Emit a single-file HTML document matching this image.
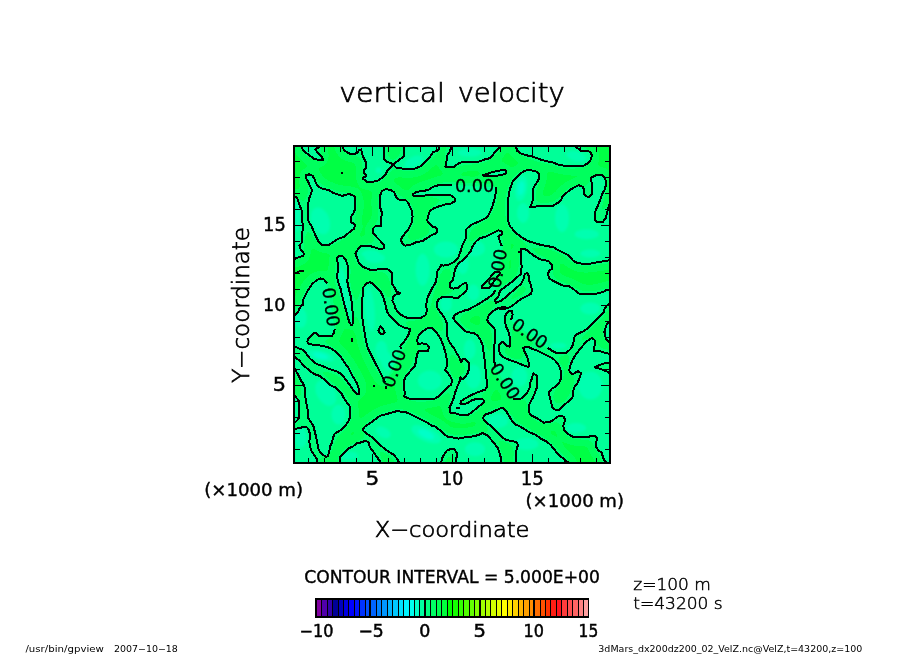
<!DOCTYPE html>
<html lang="en"><head><meta charset="utf-8"><title>vertical velocity</title>
<style>html,body{margin:0;padding:0;background:#fff;overflow:hidden}svg{display:block}text{font-family:"DejaVu Sans","Liberation Sans",sans-serif;fill:#000}</style></head><body>
<svg width="904" height="654" viewBox="0 0 904 654">
<rect width="904" height="654" fill="#fff"/>
<defs><clipPath id="pc"><rect x="294" y="146" width="316" height="317"/></clipPath></defs>
<g clip-path="url(#pc)" shape-rendering="crispEdges">
<rect x="294" y="146" width="316" height="317" fill="#00ff66"/>
<defs><path id="ng" d="M301.7 110 301.7 147.3 303.3 150.6 308.6 154.6 313.9 158.6 317.9 159.7 323 159.7 321.3 156 317.3 152 315.3 149.3 318.6 147.3 318.6 110ZM342.5 110 342.5 147.3 344.5 150.6 348.5 153.3 352.5 154.2 356.5 153.3 359.2 150.2 361.2 149.3 362.5 155.3 365.2 160.6 366.5 164.6 365.8 168.6 363.8 170.6 364.5 173.9 366.5 175.9 362.5 178.2 364.5 179.9 366.9 181.9 372.5 181.9 377.8 180.6 383.1 177.3 385.8 173.9 387.8 169.9 391.8 166.6 392.7 165.3 391.8 163.3 387.1 162 384.2 159.3 384.2 147.3 384.2 110ZM403.7 110 403.7 147.3 403.7 154.6 404.4 156 399.1 160 394.4 163.3 393.5 164.9 396.4 167.9 403.1 168.6 408 169.3 414.6 168.6 420 166.6 425.3 162 429.3 158 431.3 154.6 433.3 152 437.2 151 439.2 149.3 439.2 147.3 439.2 110ZM451.2 110 451.2 147.3 449.9 151.3 447.2 155.3 446.6 160.6 445.9 164.6 445.2 166.6 449.2 167 454.5 166.6 458.5 163.3 462.5 162 470.5 162 478.5 161.7 485.1 159.3 490.5 158 493.1 154.6 495.8 151.3 499.1 148 500.4 147.3 500.4 110ZM515.7 110 515.7 147.3 517.3 150 520.6 153.3 526.6 155.3 533.3 156.9 539.9 159.3 546.6 161.3 553.2 162.6 558.5 164.6 565.2 165.9 574.5 165.9 583.8 165.7 587.8 163.3 591.1 159.3 591.8 155.3 590.5 152 586.5 150.6 581.1 150.6 578.5 148.7 575.8 147.3 575.8 110ZM482.5 175.3 487.8 173.7 493.1 171.9 498.4 170.6 505.1 170.2 506.4 171.9 505.1 173.9 499.8 175.3 493.1 176.3 486.5 176.3ZM646 204 609.4 204.5 608.4 207.2 607.1 212.5 605.8 217.8 603.1 221.8 599.8 222.5 596.4 221.8 594.5 218.5 594.5 214.5 595.8 209.8 598.4 204.5 600.4 199.2 602.4 193.9 605.1 188.6 606.2 183.2 605.1 178.6 602.4 175.3 598.4 174.6 594.5 175.9 591.1 177.9 591.5 181.9 591.8 187.2 591.8 193.9 589.8 196.5 586.5 196.5 584.1 193.9 584.1 189.2 582.5 186.6 578.5 185.2 573.2 187.9 569.2 190.6 565.2 193.9 561.9 197.2 561.2 200.5 557.2 203.2 553.2 205.6 545.2 205.6 538.6 205.9 533.3 207.2 529.9 207.5 531.3 204.5 532.6 200.5 532.6 195.2 533.3 188.6 535.3 184.6 537.2 181.9 539.2 177.9 538.8 173.9 535.9 171.3 530.6 170.2 524.6 170.6 520 173.9 516 177.9 512.6 181.9 510.6 187.2 509 192.6 508.2 199.2 507.7 208.5 508 216.5 508.6 223.1 510.6 227.1 512 228.3 514.6 231.7 518.6 235 523.3 238.3 527.9 241 534.6 243 541.2 245 547.9 246.3 553.2 247 557.2 249.6 562.5 252.3 567.8 254.9 570.5 257.6 573.2 260.7 577.2 262.9 582.5 263.8 590.5 263.6 597.1 262.2 603.8 261.2 609.4 260.3 646 260ZM306 175.3 309.3 174.3 312.6 175.9 314.6 179.2 315.9 183.2 318.6 186.6 323.3 189.2 328.6 189.9 332.6 192.6 337.9 194.5 341.9 195.9 345.9 194.9 348.5 193.9 352.5 195.2 355.2 197.2 355.2 208.5 353.9 212.5 351.2 216.5 350.5 221.8 355.2 224.5 354.5 227.1 353.9 229 349.2 232.3 344.5 236.7 337.9 239 332.6 242.3 329.2 244.7 321.9 244.7 318.6 241.6 315.9 236.3 313.3 230.3 311.3 225.8 308.6 221.8 308 216.5 308 204.5 309.3 197.9 311.3 193.2 312 189.9 310 185.9 308 181.2 305.7 177.9ZM258 196.5 295.1 196.5 297.3 198.5 299.3 204.5 302 211.2 302 221.8 303.3 225.1 302.6 229 302.2 238.3 302 242.3 299.3 245.6 300.6 249.6 304 253.6 303.3 255.6 298 257.6 295.1 258.9 258 259ZM381.8 191.2 385.8 189.2 391.1 189.9 394.4 192.6 396.4 197.9 400.4 200.5 404.4 199.9 405.3 199.9 408 202.5 410 207.2 412 211.2 412.6 216.5 412 221.8 410 225.8 408.6 229 405.3 233 402 237 401.1 239.6 402 243.6 405.3 245.6 410 245 416 242.3 422.6 241 426.6 238.3 431.9 235 436.6 233 437.2 229.7 435.3 227 433.3 227.1 429.3 223.8 427.3 220.5 427.9 216.5 429.9 211.2 433.3 208.5 438.6 206.5 445.2 204.5 451.2 203.5 454.8 201.2 454.5 197.9 450.6 195.2 443.9 194.9 433.3 194.9 425.3 195.5 414.6 196.3 412.6 194.5 415.3 192.6 420 191.2 425.3 190.6 429.9 189.2 433.3 186.6 438.6 185.2 445.2 184.6 452.5 184.8 496 187.2 495.8 192.6 494.5 199.2 492.5 205.9 490.5 211.2 487.8 216.5 483.8 219.2 478.5 221.8 473.2 223.8 469.2 226.5 466.5 229 465.9 233 465.9 238.3 463.9 242.3 461.9 246.3 460.5 251.6 458.5 256.9 455.9 260.3 452.5 262.9 447.9 264.9 443.2 265.6 441.2 264.9 439.9 267.6 437.2 271.6 436.6 276.9 435.9 282.2 433.3 286.2 430.6 291.5 427.9 296.8 426.6 302.2 425.9 307.5 426.6 308 426.6 312 425.3 315.3 421.3 317.6 416 318 408 318 404 316.6 400 314 397.8 312 395.1 308 394.4 304.8 392.4 300.8 393.1 296.8 396.4 294.2 400.4 293.5 396.4 291.5 394.4 287.5 391.8 283.5 392.2 278.2 391.8 272.9 388.4 269.6 383.1 268.6 376.5 269.6 369.8 269.6 363.2 266.9 359.2 263.6 357.2 258.3 355.5 253.6 357.2 250.3 360.5 246.3 364.5 245.6 369.8 246 375.1 247.6 379.1 248.9 384.5 248.3 383.8 245 380.5 241 376.5 237 373.1 233 372.5 229 375.1 226.3 381.1 226.1 381.1 221.8 381.8 212.5 380.5 208.5 380.2 195.2ZM258 314.7 295.1 314.7 298 312 300 307.5 302.6 304.8 303.3 299.5 307.3 291.5 312 284.2 316.6 280.2 320.6 278.5 323.9 279.3 327.2 283.5 334.6 329.3 333.9 333.3 331.9 335.9 325.9 336.2 319.3 335.9 317.3 333.9 314.6 332.6 311.3 335.3 308 339.3 307.3 341.9 309.3 344.2 316.6 345 323.3 345.9 329.9 347.9 335.2 351.2 340.6 356.6 344.5 362.5 348.5 367.9 352.5 375.8 356.5 382.5 358.5 387.8 359.2 393.1 359.2 393.6 357.2 393.9 354.5 391.6 351.2 387 349.9 385.2 345.9 379.8 341.9 374.5 336.6 371.2 329.9 369.2 323.3 366.5 316.6 363.9 310 358.6 306 353.2 303.3 349.9 299.3 348.6 295.1 346.6 258 346.6ZM336.6 258.3 339.9 255.6 342.5 255.9 345.2 258.9 347.2 263.6 348.3 268.9 347.9 276.9 347.2 280.9 348.5 287.5 350.5 295.5 351.9 303.5 352.8 314.7 353.2 321.3 352.3 325 351.2 325 349.2 322 347.9 317.3 346.5 312 344.5 304.8 342.5 296.8 340.6 288.9 337.9 280.9 336.6 275.6 337.9 271.6 337.9 263.6ZM369.8 282.2 372.5 283.5 376.5 287.5 380.5 291.5 383.1 296.8 385.1 303.5 387.1 312 387.8 313.3 392.4 318.6 397.8 324 403.1 327.3 408.4 328.6 410 329.3 409.1 333.3 407.1 337.3 404.4 341.3 401.1 344.6 400.4 346.6 401.7 349.2 385.1 382.5 383.8 379.8 381.8 375.8 378.5 369.2 375.1 362.5 371.1 354.6 367.8 347.9 365.8 339.9 364.5 331.9 363.2 324 362.1 316 362.5 312 361.8 304.8 362.5 296.8 363.2 287.5 366.5 283.5ZM380.5 326 383.1 329.3 384.7 332.6 383.1 334.3 379.8 333.3 378.5 330.6 379.4 328ZM258 357.2 295.1 357.2 299.3 360.5 303.3 365.2 308.6 369.9 313.9 373.9 319.3 375.8 324.6 379.8 329.9 385.2 334.6 387 338.6 390.3 341.9 394.3 343.9 398.3 347.2 403 350.1 406.9 350.5 412.3 349.9 417.6 347.9 422.2 344.5 426.9 340.6 430.2 337.2 432.2 334.6 433.6 333.2 437.5 331.9 442.9 329.9 446.9 329.2 452.2 327.9 456.2 325.9 456.8 321.3 453.5 318.6 449.5 317.3 442.9 315.9 436.2 314.6 430.9 313.3 425.6 310.6 421.6 308 417.6 308 410.9 306.6 404.3 305.3 396.3 305.3 389.7 304 385 300.6 379.8 298 374.5 295.1 369.2 258 369.2ZM258 396.3 295.1 396.3 298.6 400.3 299.3 406.9 299.3 417.6 296.7 420.9 295.1 422.2 258 422.2ZM258 428.9 295.1 428.9 299.3 428.2 303.3 426.9 307.3 427.6 309.3 430.9 310 436.2 309.3 441.5 310 446.9 312 452.2 314.6 455.5 316.6 458.8 317.3 462.8 317.3 499 258 499ZM339.9 499 339.9 462.8 339.9 456.8 344.5 452.2 348.5 448.2 352.5 446.9 356.5 443.5 361.8 442.2 365.2 440.9 368.5 442.2 369.8 446.9 372.5 450.8 376.5 456.2 379.1 460.2 381.1 462.8 381.1 499ZM399.1 499 399.1 462.8 397.1 458.8 393.8 454.8 388.4 451.5 383.1 447.5 377.8 442.9 372.5 437.5 365.8 432.9 362.5 430.2 364.5 426.9 368.5 424.2 372.5 421.6 376.5 418.3 380.5 415.6 385.8 414.3 392.4 412.3 397.8 410.9 400 411.6 405.3 412 410.6 414.3 416 416.9 421.3 419.6 426.6 422.2 431.9 425.6 435.9 426.9 439.9 430.2 443.9 434.2 447.9 436.9 453.2 437.5 458.5 438.6 463.9 437.5 469.2 436.9 474.5 436.2 478.5 434.9 482.5 432.9 486.5 434.9 490.5 438.9 494.5 443.5 497.8 448.2 499.8 453.5 501.1 458.8 501.4 462.8 501.4 499ZM441.2 499 441.2 462.8 441.9 458.8 443.9 454.8 446.6 450.8 450.6 449.1 454.5 449.5 456.5 452.2 456.5 457.5 455.9 462.8 455.9 499ZM428.6 327.7 431.9 328 435.3 331.3 438.6 335.3 441.2 339.9 443.2 345.2 445.2 351.9 446.6 358.6 446.8 366.5 445.2 369.9 447.9 373.2 450.6 377.2 452.1 380.5 451.2 384.5 450.6 385 446.6 388.3 442.6 392.3 438.6 396.3 434.6 398.7 426.6 399 416 399 409.3 398.7 404 396.3 405.1 393.6 404 388.3 404 386.5 404 381.2 405.3 377.2 408.6 373.2 412 369.2 415.3 365.2 416 359.9 417.3 353.9 418.6 350.8 423.9 351.2 427.9 350.8 429 347.2 427.3 344.6 422.6 343.3 418 343.9 417.3 340.6 418 336.6 421.3 332.6 424.6 330ZM498.4 230.3 493.1 233 486.5 236.3 479.8 238.3 475.8 241.6 472.5 246.3 470.5 251.6 466.5 256.3 462.5 260.3 458.5 263.6 455.2 268.9 453.9 275.6 452.5 280.9 449.9 283.5 449.9 287.5 453.2 288.6 458.5 287.5 462.5 284.2 465.9 282.9 467.2 284.9 466.5 290.2 462.5 294.2 458.5 297.5 453.2 297.5 447.9 296.8 442.6 296.8 438.6 299.5 436.6 303.5 437.2 307.5 439.9 311.5 441.2 313.3 444.6 318 446.6 322.6 447.2 328 446.8 333.3 447.9 338.6 450.6 343.9 453.9 347.9 456.5 353.2 459.2 357.2 460.5 360.5 461.2 361.9 463.2 358.6 466.5 359.9 468.5 362.5 469.2 367.9 467.8 373.2 465.2 377.2 462.5 379.2 460.5 377.2 459.9 380.5 457.9 385.2 455.9 390.5 455.2 392.3 453.9 397.6 451.9 403 449.5 407.6 449.9 412.3 453.2 413.3 457.2 413.6 459.9 414.9 467.8 414.9 471.8 412.3 475.8 408.9 479.8 405.6 483.1 403 484.5 401 482.5 399 477.2 398.7 471.8 400.3 467.8 403 463.9 404.3 460.5 403.6 461.2 401 465.2 398.3 470.5 395.6 475.8 393 481.1 391 485.1 389.7 487.1 387 487.1 383.8 486.5 378.5 485.8 371.9 485.1 365.2 484.5 358.6 483.5 351.9 482.5 345.2 480.5 339.9 477.8 335.9 474.5 333.3 470.5 332.6 466.5 331.9 462.5 328.6 458.5 324.6 455.2 321.3 453.2 318 454.5 315.3 458.5 312.7 463.9 310.7 469.2 309.3 471.8 307.5 477.2 304.8 482.5 301.5 487.8 298.2 493.1 294.2 495.1 290.2 501.8 246.3 499.8 241 498.4 236.3 501.8 234.3 501.8 231.7ZM646 289.5 609.4 289.5 606.4 290.2 602.4 292.2 595.8 293.9 586.5 294.2 579.8 293.9 577.2 292.2 573.2 288.9 569.2 286.2 562.5 285.5 557.2 282.9 553.2 280.9 549.2 278.2 547.9 274.2 549.2 270.9 551.9 268.9 551.9 264.9 549.2 261.6 545.2 260.3 539.9 259.3 535.9 256.9 531.9 254.3 527.9 250.9 524.6 248.9 520.6 248.9 520.6 252.9 521.3 259.6 521.6 267.6 520.6 274.2 516 278.2 510.6 282.9 505.3 286.9 500 290.9 498.4 296.2 495.1 299.5 495.8 302.8 501.1 300.8 505.3 297.5 510.6 292.8 516 288.2 521.3 283.5 523.9 278.2 524.6 274.2 527.3 272.9 528.6 275.6 529.3 280.9 531.3 286.2 531.9 290.2 531.3 293.5 526.6 296.2 521.3 298.8 516 302.8 512 306.1 508 308.1 500 309.5 505.1 306.8 498.4 308.1 494.5 310 491.1 312.7 488.5 316 487.1 320 489.1 323.3 493.1 326.6 495.1 330 495.1 335.9 494.7 342.6 493.8 349.2 493.8 355.9 494.5 362.5 495.1 366.5 513.3 398.7 520 399 522.6 397.6 526.6 393.6 529.5 388.3 529.9 383.8 531.9 378.5 533.3 373.2 536.6 375.8 537.2 381.2 536.6 387.8 536.6 388.3 534.6 393.6 532.6 398.3 529.9 403 528.6 407.6 529 412.3 531.3 415.6 535.9 417.6 539.9 420.2 543.9 422.6 549.2 422.2 553.2 420.2 556.5 417.3 559.9 415.6 563.9 416.9 565.2 420.2 563.2 425.6 563.9 429.6 566.5 432.9 570.5 435.5 573.2 436.9 579.8 436.9 586.5 436.9 591.8 436.2 595.8 436.2 597.1 438.9 595.8 442.9 595.8 446.9 598.4 450.2 601.8 452.8 603.1 457.5 605.1 461.5 606.4 462.8 606.4 499 646 499ZM646 303.5 609.4 303.5 606.4 306.1 603.8 310.1 603.8 312.7 598.4 317.3 593.1 322.6 587.8 328 583.8 331.3 578.5 333.3 574.8 335.9 573.8 339.9 573.2 344.6 570.5 349.2 566.5 352.6 561.2 353.2 555.9 352.6 551.9 350.6 547.9 347.9 510.4 320.2 512 318 512.6 314 511.7 310.9 509.3 310.9 506.7 313.3 505.3 316 505.1 319.3 505.6 325.3 508 330.6 509.6 335.9 510.4 341.3 509.6 346.6 506.7 345.9 503.3 342.6 502.4 341.9 499.1 344.6 499.1 350.6 500.4 354.6 503.1 357.2 507.8 359.2 513.1 361.2 516 361.9 521.3 364.5 526.6 366.5 529.3 366.5 528.6 362.5 527.3 357.2 524.6 351.9 523.3 347.9 527.3 346.6 531.9 348.6 538.6 351.2 545.2 354.6 550.6 357.2 554.5 359.9 557.9 363.9 559.9 367.9 560.9 371.9 560.9 378.5 559.2 382.5 555.9 386.5 551.9 388.5 549.2 391.8 549 393.6 549.9 397.6 551.2 403 552.5 407.6 555.9 410.3 559.2 409.6 562.5 406.3 566.5 403 570.5 399.6 572.9 396.3 573.2 391 574.5 387 577.8 382.5 579.8 377.2 581.1 373.2 577.8 371.2 574.5 373.2 571.8 374.5 569.2 370.5 570.5 365.2 572.5 359.9 575.8 354.6 579.8 349.2 583.8 344.6 587.8 340.6 591.8 337.9 594.5 339.9 594.7 345.2 593.8 350.6 599.8 351.2 606.4 353.2 609.4 353.9 646 353.9ZM646 321.3 609.4 321.3 606.4 325.3 604.4 331.9 605.8 338.6 609.4 342.6 646 342.6ZM646 362.5 609.4 362.5 602.4 363.9 594.5 367.2 601.1 369.2 606.4 371.2 609.4 373.2 646 373.2ZM516 499 516 462.8 516 454.8 516.6 449.5 518 444.9 516.6 442.2 512 440.9 506.7 440.2 502.4 437.5 498.4 433.6 494.5 429.6 490.5 425.6 485.1 421.6 483.1 418.3 484.5 414.9 490.5 412.9 495.8 410.3 502.4 407.6 505.8 410.3 508.4 414.9 511.7 420.2 515.7 424.9 518.6 425.6 523.9 428.9 529.3 432.2 535.9 434.9 541.2 438.9 546.6 441.5 550.6 444.9 554.5 449.5 557.2 453.5 561.2 456.8 565.2 460.2 569.2 462.8 569.2 499ZM481.4 287 488 279.5 495.5 271.8 499.6 271.8 499.6 274 494 281.5 489 288.2 482.5 288.2Z" fill-rule="evenodd" clip-rule="evenodd"/><clipPath id="ngc"><use href="#ng"/></clipPath><filter id="fpos" filterUnits="userSpaceOnUse" x="250" y="100" width="404" height="410" color-interpolation-filters="sRGB"><feGaussianBlur stdDeviation="6"/><feComponentTransfer><feFuncR type="discrete" tableValues="0"/><feFuncG type="discrete" tableValues="1"/><feFuncB type="discrete" tableValues="0.266667 0.266667 0.368627 0.368627 0.368627 0.368627 0.368627 0.368627 0.368627 0.368627 0.368627 0.368627 0.368627 0.478431 0.478431 0.478431 0.478431 0.478431 0.478431 0.478431 0.478431 0.478431 0.478431 0.478431 0.478431 0.478431 0.478431 0.478431 0.478431 0.478431 0.478431 0.478431 0.478431 0.478431 0.478431 0.478431 0.478431 0.478431 0.478431 0.478431"/><feFuncA type="discrete" tableValues="1"/></feComponentTransfer></filter><filter id="pb" x="-30%" y="-30%" width="160%" height="160%"><feGaussianBlur stdDeviation="1.2"/></filter><g id="msk"><rect x="250" y="100" width="404" height="410" fill="#000"/><use href="#ng" fill="#00f"/></g></defs>
<g shape-rendering="auto"><use href="#msk" filter="url(#fpos)"/>
<g clip-path="url(#ngc)"><rect x="250" y="100" width="404" height="410" fill="#00ff98"/>
<ellipse cx="320.5" cy="220.9" rx="9" ry="14" fill="#00ffb0" filter="url(#pb)" transform="rotate(-20 320.5 220.9)"/>
<ellipse cx="413.7" cy="161.7" rx="10" ry="5" fill="#00ffb0" filter="url(#pb)" transform="rotate(-25 413.7 161.7)"/>
<ellipse cx="378.7" cy="170.3" rx="3" ry="3" fill="#00ffb0" filter="url(#pb)"/>
<ellipse cx="445.9" cy="249.5" rx="12" ry="8" fill="#00ffb0" filter="url(#pb)"/>
<ellipse cx="370.6" cy="254" rx="9" ry="4" fill="#00ffb0" filter="url(#pb)"/>
<ellipse cx="297.2" cy="217.3" rx="3" ry="14" fill="#00ffb0" filter="url(#pb)"/>
<ellipse cx="521.1" cy="188.1" rx="6" ry="13" fill="#00ffb0" filter="url(#pb)" transform="rotate(8 521.1 188.1)"/>
<ellipse cx="521.1" cy="188.1" rx="3.3" ry="7.2" fill="#00ffc8" filter="url(#pb)" transform="rotate(8 521.1 188.1)"/>
<ellipse cx="562" cy="218.2" rx="7" ry="14" fill="#00ffb0" filter="url(#pb)"/>
<ellipse cx="586.7" cy="234.2" rx="12" ry="5" fill="#00ffb0" filter="url(#pb)"/>
<ellipse cx="576.1" cy="156.2" rx="10" ry="5" fill="#00ffb0" filter="url(#pb)" transform="rotate(15 576.1 156.2)"/>
<ellipse cx="469.7" cy="152.6" rx="12" ry="4" fill="#00ffb0" filter="url(#pb)"/>
<ellipse cx="475" cy="248.4" rx="10" ry="8" fill="#00ffb0" filter="url(#pb)"/>
<ellipse cx="523" cy="213" rx="6" ry="10" fill="#00ffb0" filter="url(#pb)"/>
<ellipse cx="343.8" cy="291.2" rx="4" ry="24" fill="#00ffb0" filter="url(#pb)" transform="rotate(-8 343.8 291.2)"/>
<ellipse cx="369.7" cy="309.1" rx="5" ry="22" fill="#00ffb0" filter="url(#pb)" transform="rotate(-5 369.7 309.1)"/>
<ellipse cx="320.5" cy="355.7" rx="14" ry="5" fill="#00ffb0" filter="url(#pb)" transform="rotate(15 320.5 355.7)"/>
<ellipse cx="320.5" cy="355.7" rx="7.7" ry="2.8" fill="#00ffc8" filter="url(#pb)" transform="rotate(15 320.5 355.7)"/>
<ellipse cx="300.8" cy="318.1" rx="6" ry="10" fill="#00ffb0" filter="url(#pb)"/>
<ellipse cx="375.1" cy="258.1" rx="10" ry="5" fill="#00ffb0" filter="url(#pb)"/>
<ellipse cx="422.6" cy="269.7" rx="7" ry="16" fill="#00ffb0" filter="url(#pb)"/>
<ellipse cx="446" cy="303.8" rx="6" ry="8" fill="#00ffb0" filter="url(#pb)"/>
<ellipse cx="381.4" cy="350.4" rx="6" ry="10" fill="#00ffb0" filter="url(#pb)"/>
<ellipse cx="325.8" cy="393" rx="9" ry="14" fill="#00ffb0" filter="url(#pb)" transform="rotate(-30 325.8 393)"/>
<ellipse cx="338.4" cy="414.5" rx="7" ry="10" fill="#00ffb0" filter="url(#pb)"/>
<ellipse cx="300.8" cy="437.8" rx="6" ry="10" fill="#00ffb0" filter="url(#pb)"/>
<ellipse cx="429.8" cy="380.5" rx="12" ry="10" fill="#00ffb0" filter="url(#pb)"/>
<ellipse cx="426.2" cy="434.2" rx="16" ry="7" fill="#00ffb0" filter="url(#pb)" transform="rotate(25 426.2 434.2)"/>
<ellipse cx="426.2" cy="434.2" rx="8.8" ry="3.9" fill="#00ffc8" filter="url(#pb)" transform="rotate(25 426.2 434.2)"/>
<ellipse cx="383.2" cy="432.4" rx="8" ry="5" fill="#00ffb0" filter="url(#pb)" transform="rotate(30 383.2 432.4)"/>
<ellipse cx="349.1" cy="455.7" rx="9" ry="4" fill="#00ffb0" filter="url(#pb)"/>
<ellipse cx="386.8" cy="360.8" rx="6" ry="10" fill="#00ffb0" filter="url(#pb)" transform="rotate(-15 386.8 360.8)"/>
<ellipse cx="473.3" cy="376.6" rx="8" ry="12" fill="#00ffb0" filter="url(#pb)"/>
<ellipse cx="519.4" cy="376.6" rx="8" ry="10" fill="#00ffb0" filter="url(#pb)"/>
<ellipse cx="498.1" cy="420.9" rx="10" ry="7" fill="#00ffb0" filter="url(#pb)"/>
<ellipse cx="590.3" cy="385.5" rx="12" ry="14" fill="#00ffb0" filter="url(#pb)"/>
<ellipse cx="576.1" cy="428" rx="10" ry="5" fill="#00ffb0" filter="url(#pb)"/>
<ellipse cx="475" cy="449.3" rx="10" ry="7" fill="#00ffb0" filter="url(#pb)"/>
<ellipse cx="526.5" cy="444" rx="12" ry="6" fill="#00ffb0" filter="url(#pb)"/>
<ellipse cx="590.3" cy="308.5" rx="10" ry="6" fill="#00ffb0" filter="url(#pb)"/>
<ellipse cx="558.4" cy="345.7" rx="8" ry="3" fill="#00ffb0" filter="url(#pb)"/>
<ellipse cx="590.3" cy="253.5" rx="10" ry="4" fill="#00ffb0" filter="url(#pb)"/>
<ellipse cx="473.3" cy="292.6" rx="6" ry="8" fill="#00ffb0" filter="url(#pb)"/>
<ellipse cx="462.6" cy="264.2" rx="6" ry="10" fill="#00ffb0" filter="url(#pb)"/>
<ellipse cx="469.7" cy="349.3" rx="6" ry="10" fill="#00ffb0" filter="url(#pb)"/>
</g></g>
<path d="M301.7 110 301.7 147.3 303.3 150.6 308.6 154.6 313.9 158.6 317.9 159.7 323 159.7 321.3 156 317.3 152 315.3 149.3 318.6 147.3 318.6 110ZM342.5 110 342.5 147.3 344.5 150.6 348.5 153.3 352.5 154.2 356.5 153.3 359.2 150.2 361.2 149.3 362.5 155.3 365.2 160.6 366.5 164.6 365.8 168.6 363.8 170.6 364.5 173.9 366.5 175.9 362.5 178.2 364.5 179.9 366.9 181.9 372.5 181.9 377.8 180.6 383.1 177.3 385.8 173.9 387.8 169.9 391.8 166.6 392.7 165.3 391.8 163.3 387.1 162 384.2 159.3 384.2 147.3 384.2 110ZM403.7 110 403.7 147.3 403.7 154.6 404.4 156 399.1 160 394.4 163.3 393.5 164.9 396.4 167.9 403.1 168.6 408 169.3 414.6 168.6 420 166.6 425.3 162 429.3 158 431.3 154.6 433.3 152 437.2 151 439.2 149.3 439.2 147.3 439.2 110ZM451.2 110 451.2 147.3 449.9 151.3 447.2 155.3 446.6 160.6 445.9 164.6 445.2 166.6 449.2 167 454.5 166.6 458.5 163.3 462.5 162 470.5 162 478.5 161.7 485.1 159.3 490.5 158 493.1 154.6 495.8 151.3 499.1 148 500.4 147.3 500.4 110ZM515.7 110 515.7 147.3 517.3 150 520.6 153.3 526.6 155.3 533.3 156.9 539.9 159.3 546.6 161.3 553.2 162.6 558.5 164.6 565.2 165.9 574.5 165.9 583.8 165.7 587.8 163.3 591.1 159.3 591.8 155.3 590.5 152 586.5 150.6 581.1 150.6 578.5 148.7 575.8 147.3 575.8 110ZM482.5 175.3 487.8 173.7 493.1 171.9 498.4 170.6 505.1 170.2 506.4 171.9 505.1 173.9 499.8 175.3 493.1 176.3 486.5 176.3ZM646 204 609.4 204.5 608.4 207.2 607.1 212.5 605.8 217.8 603.1 221.8 599.8 222.5 596.4 221.8 594.5 218.5 594.5 214.5 595.8 209.8 598.4 204.5 600.4 199.2 602.4 193.9 605.1 188.6 606.2 183.2 605.1 178.6 602.4 175.3 598.4 174.6 594.5 175.9 591.1 177.9 591.5 181.9 591.8 187.2 591.8 193.9 589.8 196.5 586.5 196.5 584.1 193.9 584.1 189.2 582.5 186.6 578.5 185.2 573.2 187.9 569.2 190.6 565.2 193.9 561.9 197.2 561.2 200.5 557.2 203.2 553.2 205.6 545.2 205.6 538.6 205.9 533.3 207.2 529.9 207.5 531.3 204.5 532.6 200.5 532.6 195.2 533.3 188.6 535.3 184.6 537.2 181.9 539.2 177.9 538.8 173.9 535.9 171.3 530.6 170.2 524.6 170.6 520 173.9 516 177.9 512.6 181.9 510.6 187.2 509 192.6 508.2 199.2 507.7 208.5 508 216.5 508.6 223.1 510.6 227.1 512 228.3 514.6 231.7 518.6 235 523.3 238.3 527.9 241 534.6 243 541.2 245 547.9 246.3 553.2 247 557.2 249.6 562.5 252.3 567.8 254.9 570.5 257.6 573.2 260.7 577.2 262.9 582.5 263.8 590.5 263.6 597.1 262.2 603.8 261.2 609.4 260.3 646 260ZM306 175.3 309.3 174.3 312.6 175.9 314.6 179.2 315.9 183.2 318.6 186.6 323.3 189.2 328.6 189.9 332.6 192.6 337.9 194.5 341.9 195.9 345.9 194.9 348.5 193.9 352.5 195.2 355.2 197.2 355.2 208.5 353.9 212.5 351.2 216.5 350.5 221.8 355.2 224.5 354.5 227.1 353.9 229 349.2 232.3 344.5 236.7 337.9 239 332.6 242.3 329.2 244.7 321.9 244.7 318.6 241.6 315.9 236.3 313.3 230.3 311.3 225.8 308.6 221.8 308 216.5 308 204.5 309.3 197.9 311.3 193.2 312 189.9 310 185.9 308 181.2 305.7 177.9ZM258 196.5 295.1 196.5 297.3 198.5 299.3 204.5 302 211.2 302 221.8 303.3 225.1 302.6 229 302.2 238.3 302 242.3 299.3 245.6 300.6 249.6 304 253.6 303.3 255.6 298 257.6 295.1 258.9 258 259ZM496 187.2 495.8 192.6 494.5 199.2 492.5 205.9 490.5 211.2 487.8 216.5 483.8 219.2 478.5 221.8 473.2 223.8 469.2 226.5 466.5 229 465.9 233 465.9 238.3 463.9 242.3 461.9 246.3 460.5 251.6 458.5 256.9 455.9 260.3 452.5 262.9 447.9 264.9 443.2 265.6 441.2 264.9 439.9 267.6 437.2 271.6 436.6 276.9 435.9 282.2 433.3 286.2 430.6 291.5 427.9 296.8 426.6 302.2 425.9 307.5 426.6 308 426.6 312 425.3 315.3 421.3 317.6 416 318 408 318 404 316.6 400 314 397.8 312 395.1 308 394.4 304.8 392.4 300.8 393.1 296.8 396.4 294.2 400.4 293.5 396.4 291.5 394.4 287.5 391.8 283.5 392.2 278.2 391.8 272.9 388.4 269.6 383.1 268.6 376.5 269.6 369.8 269.6 363.2 266.9 359.2 263.6 357.2 258.3 355.5 253.6 357.2 250.3 360.5 246.3 364.5 245.6 369.8 246 375.1 247.6 379.1 248.9 384.5 248.3 383.8 245 380.5 241 376.5 237 373.1 233 372.5 229 375.1 226.3 381.1 226.1 381.1 221.8 381.8 212.5 380.5 208.5 380.2 195.2 381.8 191.2 385.8 189.2 391.1 189.9 394.4 192.6 396.4 197.9 400.4 200.5 404.4 199.9 405.3 199.9 408 202.5 410 207.2 412 211.2 412.6 216.5 412 221.8 410 225.8 408.6 229 405.3 233 402 237 401.1 239.6 402 243.6 405.3 245.6 410 245 416 242.3 422.6 241 426.6 238.3 431.9 235 436.6 233 437.2 229.7 435.3 227 433.3 227.1 429.3 223.8 427.3 220.5 427.9 216.5 429.9 211.2 433.3 208.5 438.6 206.5 445.2 204.5 451.2 203.5 454.8 201.2 454.5 197.9 450.6 195.2 443.9 194.9 433.3 194.9 425.3 195.5 414.6 196.3 412.6 194.5 415.3 192.6 420 191.2 425.3 190.6 429.9 189.2 433.3 186.6 438.6 185.2 445.2 184.6 452.5 184.8M334.6 329.3 333.9 333.3 331.9 335.9 325.9 336.2 319.3 335.9 317.3 333.9 314.6 332.6 311.3 335.3 308 339.3 307.3 341.9 309.3 344.2 316.6 345 323.3 345.9 329.9 347.9 335.2 351.2 340.6 356.6 344.5 362.5 348.5 367.9 352.5 375.8 356.5 382.5 358.5 387.8 359.2 393.1 359.2 393.6 357.2 393.9 354.5 391.6 351.2 387 349.9 385.2 345.9 379.8 341.9 374.5 336.6 371.2 329.9 369.2 323.3 366.5 316.6 363.9 310 358.6 306 353.2 303.3 349.9 299.3 348.6 295.1 346.6 258 346.6 258 314.7 295.1 314.7 298 312 300 307.5 302.6 304.8 303.3 299.5 307.3 291.5 312 284.2 316.6 280.2 320.6 278.5 323.9 279.3 327.2 283.5M336.6 258.3 339.9 255.6 342.5 255.9 345.2 258.9 347.2 263.6 348.3 268.9 347.9 276.9 347.2 280.9 348.5 287.5 350.5 295.5 351.9 303.5 352.8 314.7 353.2 321.3 352.3 325 351.2 325 349.2 322 347.9 317.3 346.5 312 344.5 304.8 342.5 296.8 340.6 288.9 337.9 280.9 336.6 275.6 337.9 271.6 337.9 263.6ZM385.1 382.5 383.8 379.8 381.8 375.8 378.5 369.2 375.1 362.5 371.1 354.6 367.8 347.9 365.8 339.9 364.5 331.9 363.2 324 362.1 316 362.5 312 361.8 304.8 362.5 296.8 363.2 287.5 366.5 283.5 369.8 282.2 372.5 283.5 376.5 287.5 380.5 291.5 383.1 296.8 385.1 303.5 387.1 312 387.8 313.3 392.4 318.6 397.8 324 403.1 327.3 408.4 328.6 410 329.3 409.1 333.3 407.1 337.3 404.4 341.3 401.1 344.6 400.4 346.6 401.7 349.2M380.5 326 383.1 329.3 384.7 332.6 383.1 334.3 379.8 333.3 378.5 330.6 379.4 328ZM258 357.2 295.1 357.2 299.3 360.5 303.3 365.2 308.6 369.9 313.9 373.9 319.3 375.8 324.6 379.8 329.9 385.2 334.6 387 338.6 390.3 341.9 394.3 343.9 398.3 347.2 403 350.1 406.9 350.5 412.3 349.9 417.6 347.9 422.2 344.5 426.9 340.6 430.2 337.2 432.2 334.6 433.6 333.2 437.5 331.9 442.9 329.9 446.9 329.2 452.2 327.9 456.2 325.9 456.8 321.3 453.5 318.6 449.5 317.3 442.9 315.9 436.2 314.6 430.9 313.3 425.6 310.6 421.6 308 417.6 308 410.9 306.6 404.3 305.3 396.3 305.3 389.7 304 385 300.6 379.8 298 374.5 295.1 369.2 258 369.2ZM258 396.3 295.1 396.3 298.6 400.3 299.3 406.9 299.3 417.6 296.7 420.9 295.1 422.2 258 422.2ZM258 428.9 295.1 428.9 299.3 428.2 303.3 426.9 307.3 427.6 309.3 430.9 310 436.2 309.3 441.5 310 446.9 312 452.2 314.6 455.5 316.6 458.8 317.3 462.8 317.3 499 258 499ZM339.9 499 339.9 462.8 339.9 456.8 344.5 452.2 348.5 448.2 352.5 446.9 356.5 443.5 361.8 442.2 365.2 440.9 368.5 442.2 369.8 446.9 372.5 450.8 376.5 456.2 379.1 460.2 381.1 462.8 381.1 499ZM399.1 499 399.1 462.8 397.1 458.8 393.8 454.8 388.4 451.5 383.1 447.5 377.8 442.9 372.5 437.5 365.8 432.9 362.5 430.2 364.5 426.9 368.5 424.2 372.5 421.6 376.5 418.3 380.5 415.6 385.8 414.3 392.4 412.3 397.8 410.9 400 411.6 405.3 412 410.6 414.3 416 416.9 421.3 419.6 426.6 422.2 431.9 425.6 435.9 426.9 439.9 430.2 443.9 434.2 447.9 436.9 453.2 437.5 458.5 438.6 463.9 437.5 469.2 436.9 474.5 436.2 478.5 434.9 482.5 432.9 486.5 434.9 490.5 438.9 494.5 443.5 497.8 448.2 499.8 453.5 501.1 458.8 501.4 462.8 501.4 499ZM441.2 499 441.2 462.8 441.9 458.8 443.9 454.8 446.6 450.8 450.6 449.1 454.5 449.5 456.5 452.2 456.5 457.5 455.9 462.8 455.9 499ZM428.6 327.7 431.9 328 435.3 331.3 438.6 335.3 441.2 339.9 443.2 345.2 445.2 351.9 446.6 358.6 446.8 366.5 445.2 369.9 447.9 373.2 450.6 377.2 452.1 380.5 451.2 384.5 450.6 385 446.6 388.3 442.6 392.3 438.6 396.3 434.6 398.7 426.6 399 416 399 409.3 398.7 404 396.3 405.1 393.6 404 388.3 404 386.5 404 381.2 405.3 377.2 408.6 373.2 412 369.2 415.3 365.2 416 359.9 417.3 353.9 418.6 350.8 423.9 351.2 427.9 350.8 429 347.2 427.3 344.6 422.6 343.3 418 343.9 417.3 340.6 418 336.6 421.3 332.6 424.6 330ZM501.8 246.3 499.8 241 498.4 236.3 501.8 234.3 501.8 231.7 498.4 230.3 493.1 233 486.5 236.3 479.8 238.3 475.8 241.6 472.5 246.3 470.5 251.6 466.5 256.3 462.5 260.3 458.5 263.6 455.2 268.9 453.9 275.6 452.5 280.9 449.9 283.5 449.9 287.5 453.2 288.6 458.5 287.5 462.5 284.2 465.9 282.9 467.2 284.9 466.5 290.2 462.5 294.2 458.5 297.5 453.2 297.5 447.9 296.8 442.6 296.8 438.6 299.5 436.6 303.5 437.2 307.5 439.9 311.5 441.2 313.3 444.6 318 446.6 322.6 447.2 328 446.8 333.3 447.9 338.6 450.6 343.9 453.9 347.9 456.5 353.2 459.2 357.2 460.5 360.5 461.2 361.9 463.2 358.6 466.5 359.9 468.5 362.5 469.2 367.9 467.8 373.2 465.2 377.2 462.5 379.2 460.5 377.2 459.9 380.5 457.9 385.2 455.9 390.5 455.2 392.3 453.9 397.6 451.9 403 449.5 407.6 449.9 412.3 453.2 413.3 457.2 413.6 459.9 414.9 467.8 414.9 471.8 412.3 475.8 408.9 479.8 405.6 483.1 403 484.5 401 482.5 399 477.2 398.7 471.8 400.3 467.8 403 463.9 404.3 460.5 403.6 461.2 401 465.2 398.3 470.5 395.6 475.8 393 481.1 391 485.1 389.7 487.1 387 487.1 383.8 486.5 378.5 485.8 371.9 485.1 365.2 484.5 358.6 483.5 351.9 482.5 345.2 480.5 339.9 477.8 335.9 474.5 333.3 470.5 332.6 466.5 331.9 462.5 328.6 458.5 324.6 455.2 321.3 453.2 318 454.5 315.3 458.5 312.7 463.9 310.7 469.2 309.3 471.8 307.5 477.2 304.8 482.5 301.5 487.8 298.2 493.1 294.2 495.1 290.2M513.3 398.7 520 399 522.6 397.6 526.6 393.6 529.5 388.3 529.9 383.8 531.9 378.5 533.3 373.2 536.6 375.8 537.2 381.2 536.6 387.8 536.6 388.3 534.6 393.6 532.6 398.3 529.9 403 528.6 407.6 529 412.3 531.3 415.6 535.9 417.6 539.9 420.2 543.9 422.6 549.2 422.2 553.2 420.2 556.5 417.3 559.9 415.6 563.9 416.9 565.2 420.2 563.2 425.6 563.9 429.6 566.5 432.9 570.5 435.5 573.2 436.9 579.8 436.9 586.5 436.9 591.8 436.2 595.8 436.2 597.1 438.9 595.8 442.9 595.8 446.9 598.4 450.2 601.8 452.8 603.1 457.5 605.1 461.5 606.4 462.8 606.4 499 646 499 646 289.5 609.4 289.5 606.4 290.2 602.4 292.2 595.8 293.9 586.5 294.2 579.8 293.9 577.2 292.2 573.2 288.9 569.2 286.2 562.5 285.5 557.2 282.9 553.2 280.9 549.2 278.2 547.9 274.2 549.2 270.9 551.9 268.9 551.9 264.9 549.2 261.6 545.2 260.3 539.9 259.3 535.9 256.9 531.9 254.3 527.9 250.9 524.6 248.9 520.6 248.9 520.6 252.9 521.3 259.6 521.6 267.6 520.6 274.2 516 278.2 510.6 282.9 505.3 286.9 500 290.9 498.4 296.2 495.1 299.5 495.8 302.8 501.1 300.8 505.3 297.5 510.6 292.8 516 288.2 521.3 283.5 523.9 278.2 524.6 274.2 527.3 272.9 528.6 275.6 529.3 280.9 531.3 286.2 531.9 290.2 531.3 293.5 526.6 296.2 521.3 298.8 516 302.8 512 306.1 508 308.1 500 309.5 505.1 306.8 498.4 308.1 494.5 310 491.1 312.7 488.5 316 487.1 320 489.1 323.3 493.1 326.6 495.1 330 495.1 335.9 494.7 342.6 493.8 349.2 493.8 355.9 494.5 362.5 495.1 366.5M510.4 320.2 512 318 512.6 314 511.7 310.9 509.3 310.9 506.7 313.3 505.3 316 505.1 319.3 505.6 325.3 508 330.6 509.6 335.9 510.4 341.3 509.6 346.6 506.7 345.9 503.3 342.6 502.4 341.9 499.1 344.6 499.1 350.6 500.4 354.6 503.1 357.2 507.8 359.2 513.1 361.2 516 361.9 521.3 364.5 526.6 366.5 529.3 366.5 528.6 362.5 527.3 357.2 524.6 351.9 523.3 347.9 527.3 346.6 531.9 348.6 538.6 351.2 545.2 354.6 550.6 357.2 554.5 359.9 557.9 363.9 559.9 367.9 560.9 371.9 560.9 378.5 559.2 382.5 555.9 386.5 551.9 388.5 549.2 391.8 549 393.6 549.9 397.6 551.2 403 552.5 407.6 555.9 410.3 559.2 409.6 562.5 406.3 566.5 403 570.5 399.6 572.9 396.3 573.2 391 574.5 387 577.8 382.5 579.8 377.2 581.1 373.2 577.8 371.2 574.5 373.2 571.8 374.5 569.2 370.5 570.5 365.2 572.5 359.9 575.8 354.6 579.8 349.2 583.8 344.6 587.8 340.6 591.8 337.9 594.5 339.9 594.7 345.2 593.8 350.6 599.8 351.2 606.4 353.2 609.4 353.9 646 353.9 646 303.5 609.4 303.5 606.4 306.1 603.8 310.1 603.8 312.7 598.4 317.3 593.1 322.6 587.8 328 583.8 331.3 578.5 333.3 574.8 335.9 573.8 339.9 573.2 344.6 570.5 349.2 566.5 352.6 561.2 353.2 555.9 352.6 551.9 350.6 547.9 347.9M646 321.3 609.4 321.3 606.4 325.3 604.4 331.9 605.8 338.6 609.4 342.6 646 342.6ZM646 362.5 609.4 362.5 602.4 363.9 594.5 367.2 601.1 369.2 606.4 371.2 609.4 373.2 646 373.2ZM516 499 516 462.8 516 454.8 516.6 449.5 518 444.9 516.6 442.2 512 440.9 506.7 440.2 502.4 437.5 498.4 433.6 494.5 429.6 490.5 425.6 485.1 421.6 483.1 418.3 484.5 414.9 490.5 412.9 495.8 410.3 502.4 407.6 505.8 410.3 508.4 414.9 511.7 420.2 515.7 424.9 518.6 425.6 523.9 428.9 529.3 432.2 535.9 434.9 541.2 438.9 546.6 441.5 550.6 444.9 554.5 449.5 557.2 453.5 561.2 456.8 565.2 460.2 569.2 462.8 569.2 499ZM481.4 287 488 279.5 495.5 271.8 499.6 271.8 499.6 274 494 281.5 489 288.2 482.5 288.2ZM295.1 274 298 271.6 304 270.9M386 385.8 386.4 389.1M351.5 337.9 351.5 342.3M455.6 408.3 460.1 408.3" fill="none" stroke="#000" stroke-width="2" stroke-linejoin="round" stroke-linecap="butt"/>
<rect x="341" y="172" width="1.6" height="1.6" fill="#000"/>
<rect x="373" y="385" width="1.6" height="1.6" fill="#000"/>
<rect x="518" y="251" width="1.6" height="1.6" fill="#000"/>
<g shape-rendering="auto">
<text transform="translate(474.5 185.8) rotate(0.0)" x="0" y="6.4" text-anchor="middle" font-size="17.6" stroke="#000" stroke-width="0.3">0.00</text>
<text transform="translate(331.2 307.1) rotate(82.0)" x="0" y="6.4" text-anchor="middle" font-size="17.6" stroke="#000" stroke-width="0.3">0.00</text>
<text transform="translate(505.1 381.1) rotate(56.3)" x="0" y="6.4" text-anchor="middle" font-size="17.6" stroke="#000" stroke-width="0.3">0.00</text>
<text transform="translate(529.9 333.3) rotate(35.3)" x="0" y="6.4" text-anchor="middle" font-size="17.6" stroke="#000" stroke-width="0.3">0.00</text>
<text transform="translate(393.8 368.2) rotate(-70.3)" x="0" y="6.4" text-anchor="middle" font-size="17.6" stroke="#000" stroke-width="0.3">0.00</text>
<text transform="translate(497.5 268.5) rotate(-79.9)" x="0" y="6.4" text-anchor="middle" font-size="17.6" stroke="#000" stroke-width="0.3">0.00</text>
</g>
</g>
<path d="M308.5 146v5.5M308.5 463v-5.5M294 449.5h5.5M610 449.5h-5.5M324.5 146v5.5M324.5 463v-5.5M294 433.5h5.5M610 433.5h-5.5M340.5 146v5.5M340.5 463v-5.5M294 417.5h5.5M610 417.5h-5.5M356.5 146v5.5M356.5 463v-5.5M294 401.5h5.5M610 401.5h-5.5M372.5 146v9.5M372.5 463v-9.5M294 385.5h9.5M610 385.5h-9.5M388.5 146v5.5M388.5 463v-5.5M294 369.5h5.5M610 369.5h-5.5M404.5 146v5.5M404.5 463v-5.5M294 353.5h5.5M610 353.5h-5.5M420.5 146v5.5M420.5 463v-5.5M294 337.5h5.5M610 337.5h-5.5M436.5 146v5.5M436.5 463v-5.5M294 321.5h5.5M610 321.5h-5.5M452.5 146v9.5M452.5 463v-9.5M294 305.5h9.5M610 305.5h-9.5M468.5 146v5.5M468.5 463v-5.5M294 289.5h5.5M610 289.5h-5.5M484.5 146v5.5M484.5 463v-5.5M294 273.5h5.5M610 273.5h-5.5M500.5 146v5.5M500.5 463v-5.5M294 257.5h5.5M610 257.5h-5.5M516.5 146v5.5M516.5 463v-5.5M294 241.5h5.5M610 241.5h-5.5M532.5 146v9.5M532.5 463v-9.5M294 225.5h9.5M610 225.5h-9.5M548.5 146v5.5M548.5 463v-5.5M294 209.5h5.5M610 209.5h-5.5M564.5 146v5.5M564.5 463v-5.5M294 193.5h5.5M610 193.5h-5.5M580.5 146v5.5M580.5 463v-5.5M294 177.5h5.5M610 177.5h-5.5M596.5 146v5.5M596.5 463v-5.5M294 161.5h5.5M610 161.5h-5.5" stroke="#000" stroke-width="1" fill="none" shape-rendering="crispEdges"/>
<rect x="294" y="146" width="316" height="317" fill="none" stroke="#000" stroke-width="2" shape-rendering="crispEdges"/>
<text transform="translate(341.00 102.00) scale(1.0986 1)" x="-1.55" y="0" font-size="25.79" font-weight="200" stroke="#000" stroke-width="0.7" xml:space="preserve">vertical</text>
<text transform="translate(459.30 102.00) scale(1.0612 1)" x="-1.55" y="0" font-size="25.79" font-weight="200" stroke="#000" stroke-width="0.7" xml:space="preserve">velocity</text>
<text transform="translate(375.80 537.00) scale(1.0283 1)" x="-1.10" y="0" font-size="21.97" font-weight="200" stroke="#000" stroke-width="0.7" xml:space="preserve">X&#8722;coordinate</text>
<text transform="translate(249.00 382.30) rotate(-90) scale(1.0269 1)" x="-0.45" y="0" font-size="22.37" font-weight="200" stroke="#000" stroke-width="0.7" xml:space="preserve">Y&#8722;coordinate</text>
<text transform="translate(366.90 485.00) scale(1.1134 1)" x="-1.36" y="0" font-size="19.46" font-weight="400" stroke="#000" stroke-width="0.45" xml:space="preserve">5</text>
<text transform="translate(443.00 485.00) scale(0.9040 1)" x="-1.92" y="0" font-size="19.20" font-weight="400" stroke="#000" stroke-width="0.45" xml:space="preserve">10</text>
<text transform="translate(522.60 485.00) scale(0.9320 1)" x="-1.95" y="0" font-size="19.46" font-weight="400" stroke="#000" stroke-width="0.45" xml:space="preserve">15</text>
<text transform="translate(264.80 231.00) scale(0.9577 1)" x="-1.86" y="0" font-size="18.65" font-weight="400" stroke="#000" stroke-width="0.45" xml:space="preserve">15</text>
<text transform="translate(264.80 311.00) scale(0.9531 1)" x="-1.84" y="0" font-size="18.40" font-weight="400" stroke="#000" stroke-width="0.45" xml:space="preserve">10</text>
<text transform="translate(274.20 390.80) scale(1.1171 1)" x="-1.31" y="0" font-size="18.65" font-weight="400" stroke="#000" stroke-width="0.45" xml:space="preserve">5</text>
<text transform="translate(205.60 495.50) scale(1.0207 1)" x="-1.42" y="0" font-size="17.76" font-weight="400" stroke="#000" stroke-width="0.4" xml:space="preserve">(&#215;1000 m)</text>
<text transform="translate(527.00 506.60) scale(1.0317 1)" x="-1.40" y="0" font-size="17.50" font-weight="400" stroke="#000" stroke-width="0.4" xml:space="preserve">(&#215;1000 m)</text>
<text transform="translate(305.00 582.80) scale(0.9389 1)" x="-0.91" y="0" font-size="18.27" font-weight="400" stroke="#000" stroke-width="0.4" xml:space="preserve">CONTOUR INTERVAL = 5.000E+00</text>
<text transform="translate(633.90 589.90) scale(1.0922 1)" x="-0.62" y="0" font-size="15.60" font-weight="200" stroke="#000" stroke-width="0.45" xml:space="preserve">z=100 m</text>
<text transform="translate(633.90 608.80) scale(1.1034 1)" x="-0.62" y="0" font-size="15.47" font-weight="200" stroke="#000" stroke-width="0.45" xml:space="preserve">t=43200 s</text>
<text transform="translate(301.20 637.10) scale(0.9360 1)" x="-1.72" y="0" font-size="17.20" font-weight="400" stroke="#000" stroke-width="0.5" xml:space="preserve">&#8722;10</text>
<text transform="translate(360.10 637.10) scale(0.9888 1)" x="-1.74" y="0" font-size="17.43" font-weight="400" stroke="#000" stroke-width="0.5" xml:space="preserve">&#8722;5</text>
<text transform="translate(420.30 637.10) scale(1.0146 1)" x="-1.03" y="0" font-size="17.20" font-weight="400" stroke="#000" stroke-width="0.5" xml:space="preserve">0</text>
<text transform="translate(474.80 637.10) scale(1.1234 1)" x="-1.22" y="0" font-size="17.43" font-weight="400" stroke="#000" stroke-width="0.5" xml:space="preserve">5</text>
<text transform="translate(525.20 637.10) scale(0.9302 1)" x="-1.72" y="0" font-size="17.20" font-weight="400" stroke="#000" stroke-width="0.5" xml:space="preserve">10</text>
<text transform="translate(580.10 637.10) scale(0.8872 1)" x="-1.74" y="0" font-size="17.43" font-weight="400" stroke="#000" stroke-width="0.5" xml:space="preserve">15</text>
<text transform="translate(25.40 651.50) scale(1.1941 1)" x="0.00" y="0" font-size="8.55" font-weight="400" xml:space="preserve">/usr/bin/gpview</text>
<text transform="translate(114.60 651.50) scale(1.0913 1)" x="-0.61" y="0" font-size="8.67" font-weight="400" xml:space="preserve">2007&#8722;10&#8722;18</text>
<text transform="translate(599.00 651.50) scale(1.1115 1)" x="-0.60" y="0" font-size="8.55" font-weight="400" xml:space="preserve">3dMars_dx200dz200_02_VelZ.nc@VelZ,t=43200,z=100</text>
<g shape-rendering="crispEdges">
<rect x="315" y="598" width="274" height="20" fill="#000"/>
<rect x="317" y="600" width="4" height="16" fill="#8000a0"/>
<rect x="322" y="600" width="5" height="16" fill="#5000aa"/>
<rect x="328" y="600" width="4" height="16" fill="#3200aa"/>
<rect x="333" y="600" width="5" height="16" fill="#000096"/>
<rect x="339" y="600" width="4" height="16" fill="#0000be"/>
<rect x="344" y="600" width="4" height="16" fill="#0000e1"/>
<rect x="349" y="600" width="5" height="16" fill="#0000ff"/>
<rect x="355" y="600" width="4" height="16" fill="#0014ff"/>
<rect x="360" y="600" width="5" height="16" fill="#0032ff"/>
<rect x="366" y="600" width="3" height="16" fill="#0050ff"/>
<rect x="371" y="600" width="5" height="16" fill="#0064ff"/>
<rect x="377" y="600" width="4" height="16" fill="#0082ff"/>
<rect x="382" y="600" width="5" height="16" fill="#0096ff"/>
<rect x="388" y="600" width="4" height="16" fill="#00b4ff"/>
<rect x="393" y="600" width="5" height="16" fill="#00c8ff"/>
<rect x="399" y="600" width="4" height="16" fill="#00e1ff"/>
<rect x="404" y="600" width="5" height="16" fill="#00f5ff"/>
<rect x="410" y="600" width="4" height="16" fill="#00fff0"/>
<rect x="415" y="600" width="4" height="16" fill="#00ffc8"/>
<rect x="420" y="600" width="4" height="16" fill="#00ffa0"/>
<rect x="426" y="600" width="4" height="16" fill="#00ff80"/>
<rect x="431" y="600" width="5" height="16" fill="#00ff64"/>
<rect x="437" y="600" width="4" height="16" fill="#00ff50"/>
<rect x="442" y="600" width="5" height="16" fill="#00ff3c"/>
<rect x="448" y="600" width="4" height="16" fill="#00ff00"/>
<rect x="453" y="600" width="5" height="16" fill="#14ff00"/>
<rect x="459" y="600" width="4" height="16" fill="#32ff00"/>
<rect x="464" y="600" width="5" height="16" fill="#50ff00"/>
<rect x="470" y="600" width="4" height="16" fill="#64ff00"/>
<rect x="475" y="600" width="4" height="16" fill="#82ff00"/>
<rect x="481" y="600" width="4" height="16" fill="#a0ff00"/>
<rect x="486" y="600" width="4" height="16" fill="#b4ff00"/>
<rect x="491" y="600" width="5" height="16" fill="#d2ff00"/>
<rect x="497" y="600" width="4" height="16" fill="#e6ff00"/>
<rect x="502" y="600" width="5" height="16" fill="#ffff00"/>
<rect x="508" y="600" width="4" height="16" fill="#ffeb00"/>
<rect x="513" y="600" width="5" height="16" fill="#ffd200"/>
<rect x="519" y="600" width="4" height="16" fill="#ffb400"/>
<rect x="524" y="600" width="5" height="16" fill="#ffa000"/>
<rect x="530" y="600" width="3" height="16" fill="#ff8c00"/>
<rect x="535" y="600" width="5" height="16" fill="#ff6e00"/>
<rect x="541" y="600" width="4" height="16" fill="#ff5000"/>
<rect x="546" y="600" width="4" height="16" fill="#ff3200"/>
<rect x="551" y="600" width="5" height="16" fill="#ff1e14"/>
<rect x="557" y="600" width="4" height="16" fill="#ff141e"/>
<rect x="562" y="600" width="5" height="16" fill="#ff3c3c"/>
<rect x="568" y="600" width="4" height="16" fill="#ff5050"/>
<rect x="573" y="600" width="5" height="16" fill="#ff6464"/>
<rect x="579" y="600" width="4" height="16" fill="#ff8282"/>
<rect x="584" y="600" width="4" height="16" fill="#ffa0a0"/>
</g>
</svg></body></html>
